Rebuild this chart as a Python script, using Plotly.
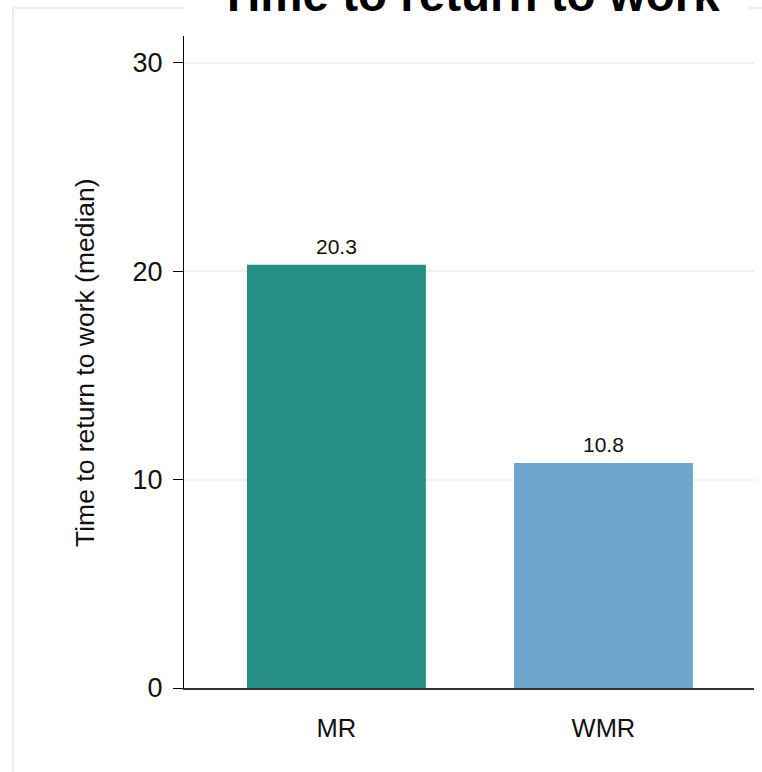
import plotly.graph_objects as go

# Median time to return to work by group
groups = ["MR", "WMR"]
median_weeks = [20.3, 10.8]
bar_colors = ["#258e85", "#6ea6ce"]
y_ticks = [0, 10, 20, 30]

FONT = "Liberation Sans, Arial, Helvetica, sans-serif"

# plot-area geometry in pixels (used to convert pixel offsets into paper units)
W, H = 762, 772
L, R, T, B = 184, 8, 36, 84
PW, PH = W - L - R, H - T - B


def px_x(px):
    return (px - L) / PW


def px_y(py):
    return (H - B - py) / PH


fig = go.Figure()
fig.add_trace(go.Bar(
    x=groups,
    y=median_weeks,
    marker=dict(color=bar_colors, line=dict(width=0)),
    width=0.67,
    showlegend=False,
    hoverinfo="x+y",
))

# value labels above each bar
for g, v in zip(groups, median_weeks):
    fig.add_annotation(
        x=g, y=v, text=f"{v}", showarrow=False,
        xanchor="center", yanchor="bottom", yshift=5,
        font=dict(family=FONT, size=21, color="#111111"),
    )

# y-axis title
fig.add_annotation(
    xref="paper", yref="paper", x=px_x(85), y=0.5,
    text="Time to return to work (median)", textangle=-90,
    showarrow=False, xanchor="center", yanchor="middle",
    font=dict(family=FONT, size=26.5, color="#111111"),
)

# outer frame and title backdrop
fig.add_shape(
    type="rect", xref="paper", yref="paper",
    x0=px_x(13), x1=px_x(800), y0=px_y(820), y1=px_y(8),
    line=dict(color="#e6eef1", width=2), fillcolor="rgba(0,0,0,0)",
)
fig.add_shape(
    type="rect", xref="paper", yref="paper",
    x0=px_x(184), x1=px_x(748), y0=px_y(12), y1=px_y(-40),
    line=dict(width=0), fillcolor="white",
)

# chart title
fig.add_annotation(
    xref="paper", yref="paper", x=0.5, y=px_y(23),
    text="<b>Time to return to work</b>", showarrow=False,
    xanchor="center", yanchor="bottom",
    font=dict(family=FONT, size=47.5, color="#000000"),
)

fig.update_layout(
    width=W, height=H,
    margin=dict(l=L, r=R, t=T, b=B, autoexpand=False),
    paper_bgcolor="white",
    plot_bgcolor="white",
    font=dict(family=FONT, color="#111111"),
    bargap=0.33,
)

fig.update_xaxes(
    range=[-0.571, 1.564],
    showline=True, linecolor="#333333", linewidth=2,
    showgrid=False, zeroline=False,
    ticks="", ticklabelstandoff=16,
    tickfont=dict(family=FONT, size=25.5, color="#111111"),
)

fig.update_yaxes(
    range=[0, 31.28],
    tickvals=y_ticks,
    showline=True, linecolor="#000000", linewidth=1.3,
    showgrid=True, gridcolor="#eaf1f3", gridwidth=1.5,
    zeroline=False,
    ticks="outside", ticklen=10, tickwidth=1.3, tickcolor="#000000",
    ticklabelstandoff=5,
    tickfont=dict(family=FONT, size=27, color="#111111"),
)

fig.write_html("out.html")
